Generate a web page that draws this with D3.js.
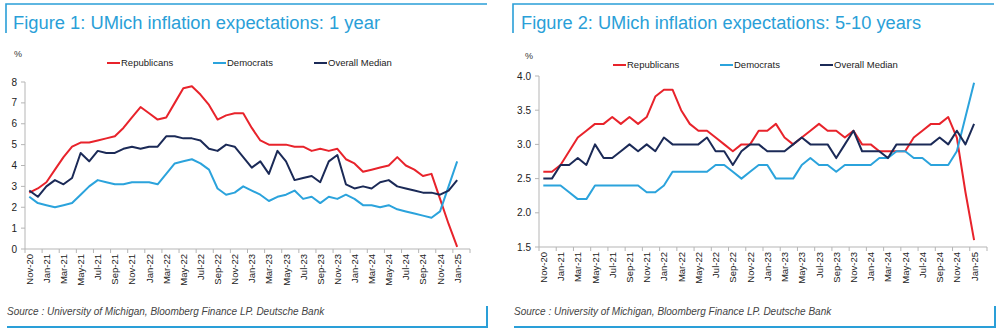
<!DOCTYPE html>
<html>
<head>
<meta charset="utf-8">
<script src="https://cdn.jsdelivr.net/npm/d3@7/dist/d3.min.js"></script>
<style>
  body { margin: 0; background: #fff; }
  svg { display: block; font-family: Arial, "Liberation Sans", sans-serif; }
</style>
</head>
<body>
<div id="chart"></div>
<script>
// Monthly categories, Nov-20 .. Jan-25
var months = ['Nov-20','Dec-20','Jan-21','Feb-21','Mar-21','Apr-21','May-21','Jun-21','Jul-21','Aug-21',
  'Sep-21','Oct-21','Nov-21','Dec-21','Jan-22','Feb-22','Mar-22','Apr-22','May-22','Jun-22',
  'Jul-22','Aug-22','Sep-22','Oct-22','Nov-22','Dec-22','Jan-23','Feb-23','Mar-23','Apr-23',
  'May-23','Jun-23','Jul-23','Aug-23','Sep-23','Oct-23','Nov-23','Dec-23','Jan-24','Feb-24',
  'Mar-24','Apr-24','May-24','Jun-24','Jul-24','Aug-24','Sep-24','Oct-24','Nov-24','Dec-24','Jan-25'];

// Figure 1: 1 year ahead
var rep1 = [2.7,2.9,3.2,3.8,4.4,4.9,5.1,5.1,5.2,5.3,5.4,5.8,6.3,6.8,6.5,6.2,6.3,7.0,7.7,7.8,
  7.4,6.9,6.2,6.4,6.5,6.5,5.8,5.2,5.0,5.0,5.0,4.9,4.9,4.7,4.8,4.7,4.8,4.3,4.1,3.7,
  3.8,3.9,4.0,4.4,4.0,3.8,3.5,3.6,2.4,1.2,0.1];
var dem1 = [2.5,2.2,2.1,2.0,2.1,2.2,2.6,3.0,3.3,3.2,3.1,3.1,3.2,3.2,3.2,3.1,3.6,4.1,4.2,4.3,
  4.1,3.8,2.9,2.6,2.7,3.0,2.8,2.6,2.3,2.5,2.6,2.8,2.4,2.5,2.2,2.5,2.4,2.6,2.4,2.1,
  2.1,2.0,2.1,1.9,1.8,1.7,1.6,1.5,1.8,3.0,4.2];
var med1 = [2.8,2.5,3.0,3.3,3.1,3.4,4.6,4.2,4.7,4.6,4.6,4.8,4.9,4.8,4.9,4.9,5.4,5.4,5.3,5.3,
  5.2,4.8,4.7,5.0,4.9,4.4,3.9,4.2,3.6,4.7,4.2,3.3,3.4,3.5,3.2,4.2,4.5,3.1,2.9,3.0,
  2.9,3.2,3.3,3.0,2.9,2.8,2.7,2.7,2.6,2.8,3.3];
var yTicks1 = [0,1,2,3,4,5,6,7,8];

// Figure 2: 5-10 years ahead
var rep5 = [2.6,2.6,2.7,2.9,3.1,3.2,3.3,3.3,3.4,3.3,3.4,3.3,3.4,3.7,3.8,3.8,3.5,3.3,3.2,3.2,
  3.1,3.0,2.9,3.0,3.0,3.2,3.2,3.3,3.1,3.0,3.1,3.2,3.3,3.2,3.2,3.1,3.2,3.0,3.0,2.9,
  2.9,2.9,2.9,3.1,3.2,3.3,3.3,3.4,3.1,2.3,1.6];
var dem5 = [2.4,2.4,2.4,2.3,2.2,2.2,2.4,2.4,2.4,2.4,2.4,2.4,2.3,2.3,2.4,2.6,2.6,2.6,2.6,2.6,
  2.7,2.7,2.6,2.5,2.6,2.7,2.7,2.5,2.5,2.5,2.7,2.8,2.7,2.7,2.6,2.7,2.7,2.7,2.7,2.8,
  2.8,2.9,2.9,2.8,2.8,2.7,2.7,2.7,2.9,3.4,3.9];
var med5 = [2.5,2.5,2.7,2.7,2.8,2.7,3.0,2.8,2.8,2.9,3.0,2.9,3.0,2.9,3.1,3.0,3.0,3.0,3.0,3.1,
  2.9,2.9,2.7,2.9,3.0,3.0,2.9,2.9,2.9,3.0,3.1,3.0,3.0,3.0,2.8,3.0,3.2,2.9,2.9,2.9,
  2.8,3.0,3.0,3.0,3.0,3.0,3.1,3.0,3.2,3.0,3.3];
var yTicks5 = [1.5,2.0,2.5,3.0,3.5,4.0];

var seriesNames = ['Republicans','Democrats','Overall Median'];
var colors = ['#e8232b','#2ba3dc','#1b2a57'];
var frameBlue = '#2a9fd8';

var width = 1000, height = 333;

var svg = d3.select('#chart').append('svg')
    .attr('width', width)
    .attr('height', height);

function drawPanel(cfg) {

  var g = svg.append('g');

  // Frame: top rule + left stub, bottom rule + right stub
  g.append('path')
    .attr('d', 'M' + cfg.frameL + ',33V4H' + cfg.frameR)
    .attr('fill', 'none').attr('stroke', frameBlue).attr('stroke-width', 1.6);
  g.append('path')
    .attr('d', 'M' + (cfg.frameL + 1) + ',327H' + cfg.bottomR + 'V306')
    .attr('fill', 'none').attr('stroke', frameBlue).attr('stroke-width', 2);

  // Title
  g.append('text')
    .attr('x', cfg.titleX).attr('y', 29)
    .attr('fill', '#2a9fd8')
    .style('font-size', '18px')
    .attr('textLength', cfg.titleW)
    .attr('lengthAdjust', 'spacingAndGlyphs')
    .text(cfg.title);

  // Source
  g.append('text')
    .attr('x', cfg.frameL + 1).attr('y', 315)
    .attr('fill', '#444')
    .style('font-size', '10px')
    .style('font-style', 'italic')
    .text('Source : University of Michigan, Bloomberg Finance LP. Deutsche Bank');

  // Scales: one spare category after Jan-25, as in the original axis
  var x = d3.scaleBand()
    .domain(months.concat(['Feb-25']))
    .range([cfg.x0, cfg.x1]);

  var y = d3.scaleLinear()
    .domain(cfg.yDomain)
    .range([cfg.yBottom, cfg.yTop]);

  var axisColor = '#b5b5b5';

  // Y axis
  g.append('line')
    .attr('x1', cfg.x0).attr('x2', cfg.x0)
    .attr('y1', cfg.yTop).attr('y2', cfg.yBottom)
    .attr('stroke', axisColor);

  g.selectAll('.ytick')
      .data(cfg.yTicks)
    .enter().append('line')
      .attr('x1', cfg.x0 - 4).attr('x2', cfg.x0)
      .attr('y1', function(d) { return y(d); })
      .attr('y2', function(d) { return y(d); })
      .attr('stroke', axisColor);

  g.selectAll('.ylab')
      .data(cfg.yTicks)
    .enter().append('text')
      .attr('x', cfg.x0 - 8)
      .attr('y', function(d) { return y(d); })
      .attr('dy', '0.35em')
      .attr('text-anchor', 'end')
      .attr('fill', '#222')
      .style('font-size', '10px')
      .text(function(d) { return d3.format(cfg.yFormat)(d); });

  g.append('text')
    .attr('x', cfg.pctX).attr('y', cfg.pctY)
    .attr('fill', '#333')
    .style('font-size', '9px')
    .text('%');

  // X axis
  g.append('line')
    .attr('x1', cfg.x0).attr('x2', cfg.x1)
    .attr('y1', cfg.yBottom).attr('y2', cfg.yBottom)
    .attr('stroke', axisColor);

  var tickIdx = d3.range(0, x.domain().length + 1, 2);
  g.selectAll('.xtick')
      .data(tickIdx)
    .enter().append('line')
      .attr('x1', function(d) { return cfg.x0 + d * x.step(); })
      .attr('x2', function(d) { return cfg.x0 + d * x.step(); })
      .attr('y1', cfg.yBottom).attr('y2', cfg.yBottom + 4)
      .attr('stroke', axisColor);

  var labelled = months.filter(function(d, i) { return i % 2 === 0; });
  g.selectAll('.xlab')
      .data(labelled)
    .enter().append('text')
      .attr('transform', function(d) {
        return 'translate(' + (x(d) + x.bandwidth() / 2 + 3.5) + ',' + (cfg.yBottom + 5) + ') rotate(-90)';
      })
      .attr('text-anchor', 'end')
      .attr('fill', '#222')
      .style('font-size', '9.5px')
      .text(function(d) { return d; });

  // Lines
  var line = d3.line()
    .x(function(d, i) { return x(months[i]) + x.bandwidth() / 2; })
    .y(function(d) { return y(d); });

  cfg.series.forEach(function(s, k) {
    g.append('path')
      .datum(s)
      .attr('fill', 'none')
      .attr('stroke', colors[k])
      .attr('stroke-width', 2)
      .attr('stroke-linejoin', 'round')
      .attr('d', line);
  });

  // Legend
  seriesNames.forEach(function(name, k) {
    var lx = cfg.legendX[k];
    g.append('line')
      .attr('x1', lx).attr('x2', lx + 13)
      .attr('y1', cfg.legendY).attr('y2', cfg.legendY)
      .attr('stroke', colors[k]).attr('stroke-width', 2);
    g.append('text')
      .attr('x', lx + 14).attr('y', cfg.legendY)
      .attr('dy', '0.35em')
      .attr('fill', '#222')
      .style('font-size', '9.5px')
      .text(name);
  });

}

drawPanel({
  title: 'Figure 1: UMich inflation expectations: 1 year',
  titleX: 13, titleW: 367,
  frameL: 6, frameR: 487, bottomR: 487,
  x0: 25, x1: 470, yTop: 82, yBottom: 249,
  yDomain: [0, 8], yTicks: yTicks1, yFormat: 'd',
  pctX: 14, pctY: 57,
  legendX: [107, 213, 314], legendY: 63,
  series: [rep1, dem1, med1]
});

drawPanel({
  title: 'Figure 2: UMich inflation expectations: 5-10 years',
  titleX: 521, titleW: 400,
  frameL: 513, frameR: 994, bottomR: 995,
  x0: 539, x1: 987, yTop: 76, yBottom: 247,
  yDomain: [1.5, 4.0], yTicks: yTicks5, yFormat: '.1f',
  pctX: 525, pctY: 59,
  legendX: [613, 720, 820], legendY: 65,
  series: [rep5, dem5, med5]
});
</script>
</body>
</html>
